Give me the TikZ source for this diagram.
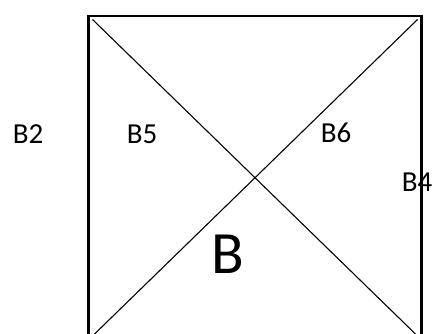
\documentclass[tikz,border=0pt]{standalone}
\usepackage{fontspec}
\setmainfont{Carlito}
\tikzset{
  lbl/.style   ={font=\fontsize{29}{34}\selectfont, inner sep=0pt},
  big/.style   ={font=\fontsize{60}{72}\selectfont, inner sep=0pt},
  frame/.style ={draw, line width=2.6pt},
  diag/.style  ={draw, line width=1.1pt},
}
\begin{document}
\begin{tikzpicture}[x=1pt,y=-1pt]
  \useasboundingbox (0,0) rectangle (433,334);
  \clip (0,0) rectangle (433,334);
  % frame
  \draw[frame] (88.5,16) rectangle (421.5,339);
  % diagonals
  \coordinate (tl) at (92.5,19.5);
  \coordinate (tr) at (417.5,19.5);
  \coordinate (bl) at (92.5,336);
  \coordinate (br) at (417.5,336);
  \draw[diag] (tl) -- (br);
  \draw[diag] (tr) -- (bl);
  % labels
  \node[lbl] (b2) at (28,134) {B2};
  \node[lbl] (b5) at (142,134) {B5};
  \node[lbl] (b6) at (336,133) {B6};
  \node[lbl] (b4) at (417,182) {B4};
  \node[big] (b)  at (228,254) {B};
\end{tikzpicture}
\end{document}
